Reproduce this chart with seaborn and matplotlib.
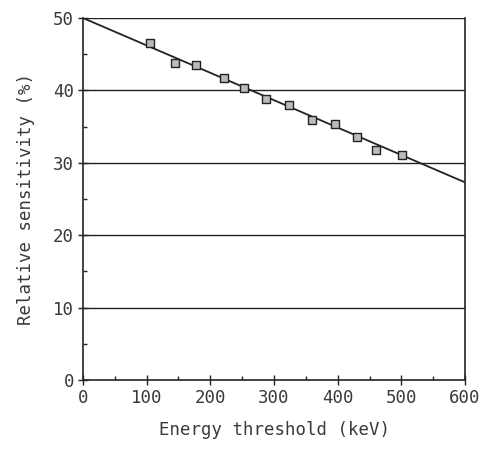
import matplotlib
matplotlib.use("Agg")
import matplotlib.pyplot as plt
import seaborn as sns
import pandas as pd
from matplotlib.ticker import MultipleLocator

# Data
energy_kev = [105, 144, 178, 221, 253, 287, 324, 359, 395, 431, 460, 501]
sensitivity = [46.5, 43.8, 43.5, 41.7, 40.4, 38.8, 38.0, 35.9, 35.4, 33.6, 31.8, 31.1]
fit_x = [0, 600]
fit_y = [50.0, 27.3]
x_ticks = [0, 100, 200, 300, 400, 500, 600]
y_ticks = [0, 10, 20, 30, 40, 50]

df = pd.DataFrame({"x": energy_kev, "y": sensitivity})
fit = pd.DataFrame({"x": fit_x, "y": fit_y})

sns.set_theme(style="white")
plt.rcParams['font.family'] = ['DejaVu Sans Mono']

fig = plt.figure(figsize=(4.89, 4.55), dpi=100)
ax = fig.add_axes([0.1697, 0.1648, 0.951 - 0.1697, 0.9604 - 0.1648])

ink = "#222222"
txt = "#3a3a3a"
for y in y_ticks[1:]:
    ax.axhline(y, color=ink, lw=1.0, zorder=1)

sns.lineplot(data=fit, x="x", y="y", ax=ax, color=ink, lw=1.3, zorder=2)
sns.scatterplot(data=df, x="x", y="y", ax=ax, marker="s", s=26,
                facecolor="#bbbbbb", edgecolor=ink, linewidth=1.0, zorder=3)

ax.set_xlim(0, 600)
ax.set_ylim(0, 50)
ax.set_xticks(x_ticks)
ax.set_yticks(y_ticks)
ax.xaxis.set_minor_locator(MultipleLocator(50))
ax.yaxis.set_minor_locator(MultipleLocator(5))
ax.tick_params(which="major", direction="inout", length=7, width=1.0,
               color=ink, labelsize=12.5, labelcolor=txt, pad=3,
               bottom=True, left=True)
ax.tick_params(which="minor", direction="in", length=3, width=1.0,
               color=ink, bottom=True, left=True)
for s in ax.spines.values():
    s.set_color(ink)
    s.set_linewidth(1.2)
ax.spines["top"].set_visible(False)

ax.set_xlabel("Energy threshold (keV)", fontsize=12.5, color=txt, labelpad=10)
ax.set_ylabel("Relative sensitivity (%)", fontsize=12.5, color=txt, labelpad=13)

fig.savefig("out.png", dpi=100)
